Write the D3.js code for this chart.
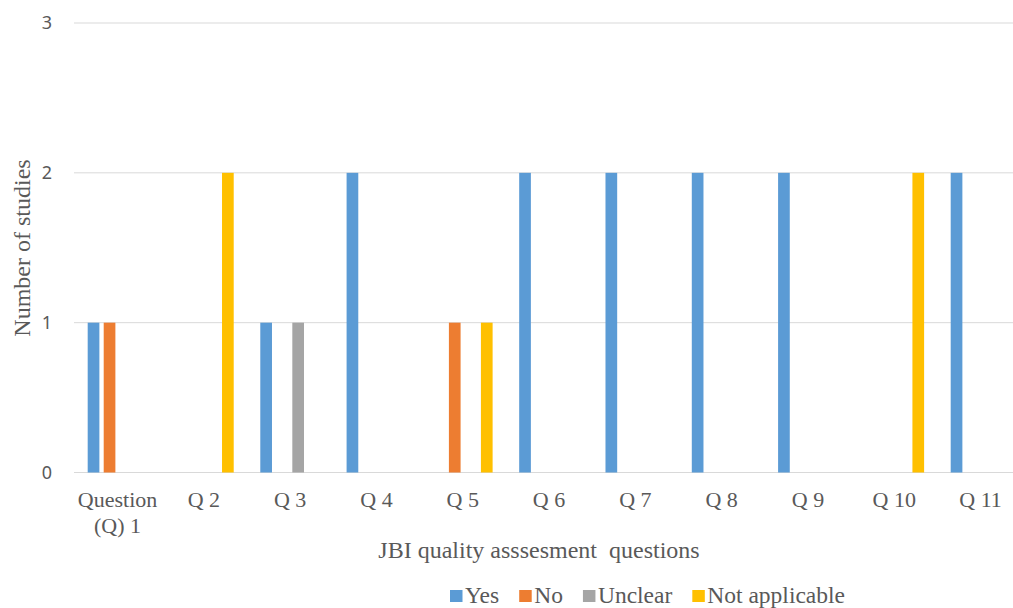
<!DOCTYPE html>
<html>
<head>
<meta charset="utf-8">
<script src="https://cdn.jsdelivr.net/npm/d3@7"></script>
<style>
  html, body { margin: 0; padding: 0; background: #fff; }
  svg { display: block; }
</style>
</head>
<body>
<svg id="chart" width="1013" height="608"></svg>
<script>
// Questions of the JBI checklist (first label wraps onto two lines)
const categories = ["Question (Q) 1", "Q 2", "Q 3", "Q 4", "Q 5", "Q 6", "Q 7", "Q 8", "Q 9", "Q 10", "Q 11"];
const categoryLines = [["Question", "(Q) 1"], ["Q 2"], ["Q 3"], ["Q 4"], ["Q 5"], ["Q 6"], ["Q 7"], ["Q 8"], ["Q 9"], ["Q 10"], ["Q 11"]];

const seriesNames = ["Yes", "No", "Unclear", "Not applicable"];
const yesValues     = [1, 0, 1, 2, 0, 2, 2, 2, 2, 0, 2];
const noValues      = [1, 0, 0, 0, 1, 0, 0, 0, 0, 0, 0];
const unclearValues = [0, 0, 1, 0, 0, 0, 0, 0, 0, 0, 0];
const naValues      = [0, 2, 0, 0, 1, 0, 0, 0, 0, 2, 0];
const seriesColors  = ["#5B9BD5", "#ED7D31", "#A5A5A5", "#FFC000"];

const yTicks = [0, 1, 2, 3];

const seriesValues = [yesValues, noValues, unclearValues, naValues];
const rows = categories.map((c, i) => ({
  cat: c,
  values: seriesNames.map((s, j) => ({ series: s, value: seriesValues[j][i], color: seriesColors[j] }))
}));

const svg = d3.select("#chart");
const serif = "'Liberation Serif', 'Times New Roman', serif";
const sans = "'Noto Sans', 'Open Sans', sans-serif";
const textColor = "#595959";

const x0 = d3.scaleBand().domain(categories).range([74.4, 1023.7]).paddingInner(0.308).paddingOuter(0.154);
const x1 = d3.scaleBand().domain(seriesNames).range([0, x0.bandwidth()]).paddingInner(0.27).paddingOuter(0);
const y = d3.scaleLinear().domain([0, 3]).range([472.5, 23]);

// horizontal gridlines
svg.append("g")
  .selectAll("line")
  .data(yTicks)
  .join("line")
  .attr("x1", 74)
  .attr("x2", 1013)
  .attr("y1", d => y(d))
  .attr("y2", d => y(d))
  .attr("stroke", "#d9d9d9")
  .attr("stroke-width", 1);

// y axis labels
const yAxis = d3.axisLeft(y).tickValues(yTicks).tickSize(0).tickPadding(0).tickFormat(d3.format("d"));
const gy = svg.append("g").attr("transform", "translate(52,0)").call(yAxis);
gy.select(".domain").remove();
gy.selectAll("text")
  .attr("font-family", sans)
  .attr("font-size", 18)
  .attr("fill", textColor);

// bars
const groups = svg.append("g")
  .selectAll("g")
  .data(rows)
  .join("g")
  .attr("transform", d => `translate(${x0(d.cat)},0)`);

groups.selectAll("rect")
  .data(d => d.values.filter(v => v.value > 0))
  .join("rect")
  .attr("x", d => x1(d.series))
  .attr("width", x1.bandwidth())
  .attr("y", d => y(d.value))
  .attr("height", d => y(0) - y(d.value))
  .attr("fill", d => d.color);

// category labels
const xAxis = d3.axisBottom(x0).tickSize(0).tickFormat("");
const gx = svg.append("g").attr("transform", `translate(0,${y(0)})`).call(xAxis);
gx.select(".domain").remove();
gx.selectAll(".tick").each(function (d, i) {
  const t = d3.select(this).append("text")
    .attr("font-family", serif)
    .attr("font-size", 22)
    .attr("fill", textColor)
    .attr("text-anchor", "middle");
  categoryLines[i].forEach((line, k) => {
    t.append("tspan").attr("x", 0).attr("y", 34 + k * 26).text(line);
  });
});

// axis titles
svg.append("text")
  .attr("transform", "translate(30,248) rotate(-90)")
  .attr("text-anchor", "middle")
  .attr("font-family", serif)
  .attr("font-size", 24)
  .attr("fill", textColor)
  .text("Number of studies");

svg.append("text")
  .attr("x", 539)
  .attr("y", 558)
  .attr("text-anchor", "middle")
  .attr("font-family", serif)
  .attr("font-size", 24)
  .attr("fill", textColor)
  .style("white-space", "pre")
  .text("JBI quality asssesment  questions");

// legend
const legend = svg.append("g").attr("transform", "translate(450,0)");
let lx = 0;
seriesNames.forEach((name, j) => {
  const item = legend.append("g").attr("transform", `translate(${lx},0)`);
  item.append("rect").attr("x", 0).attr("y", 590).attr("width", 12.5).attr("height", 12).attr("fill", seriesColors[j]);
  const t = item.append("text")
    .attr("x", 15)
    .attr("y", 603)
    .attr("font-family", serif)
    .attr("font-size", 23.5)
    .attr("fill", textColor)
    .text(name);
  lx += 15 + t.node().getComputedTextLength() + 20;
});
</script>
</body>
</html>
